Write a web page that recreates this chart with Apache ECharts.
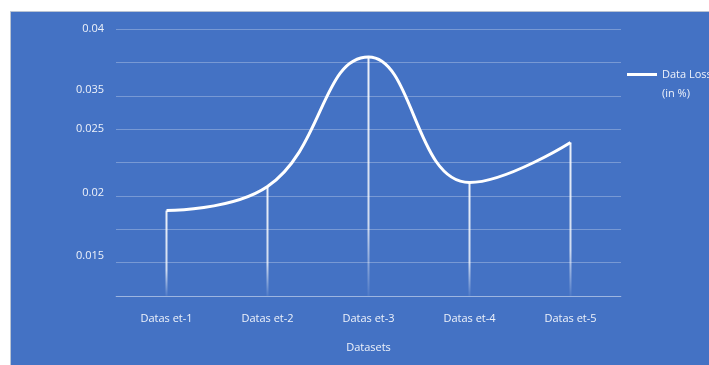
<!DOCTYPE html>
<html lang="en">

<head>
    <meta charset="UTF-8">
    <title>Data Loss</title>
    <style>
        html, body { margin: 0; padding: 0; background: #fff; }
        #chart { width: 709px; height: 365px; }
    </style>
</head>

<body>
    <div id="chart"></div>
    <script src="https://cdn.jsdelivr.net/npm/echarts@6/dist/echarts.min.js"></script>
    <script>
        const categories = ['Datas et-1', 'Datas et-2', 'Datas et-3', 'Datas et-4', 'Datas et-5']
        const dataLoss = [0.0189, 0.0207, 0.0304, 0.0210, 0.0240]
        // labels shown on the y gridlines, bottom to top
        const yTickLabels = ['', '0.015', '', '0.02', '', '0.025', '0.035', '', '0.04']

        const yMin = 0.0125
        const yStep = 0.0025

        let myChart = echarts.init(document.getElementById('chart'))

        const textColor = '#eef2fa'
        const gridColor = 'rgba(255,255,255,0.28)'

        // in the original some y labels sit a little above their gridline
        const labelLift = { '0.015': 'l7', '0.02': 'l3', '0.035': 'l6' }

        const option = {
            backgroundColor: '#fff',
            animation: false,
            textStyle: {
                fontFamily: 'Open Sans, Liberation Sans, sans-serif'
            },
            graphic: [{
                type: 'rect',
                z: -10,
                shape: { x: 10.5, y: 11.5, width: 700, height: 360 },
                style: { fill: '#4472c4', stroke: '#b9c3d3', lineWidth: 1 }
            }],
            grid: {
                left: 116,
                right: 88,
                top: 29,
                bottom: 69
            },
            legend: {
                data: ['Data Loss\n(in %)'],
                left: 622,
                top: 60,
                // line sits at the top of the icon box so it lines up with the first text line
                icon: 'path://M0,0L30,0L30,3L0,3Z M0,22L0.01,22',
                itemWidth: 30,
                itemHeight: 22,
                textStyle: {
                    color: textColor,
                    fontSize: 11,
                    lineHeight: 19
                }
            },
            xAxis: {
                type: 'category',
                data: categories,
                name: 'Datasets',
                nameLocation: 'middle',
                nameGap: 46,
                nameTextStyle: { color: textColor, fontSize: 11 },
                axisLine: { lineStyle: { color: gridColor } },
                axisTick: { show: false },
                axisLabel: { color: textColor, fontSize: 11, margin: 17 }
            },
            yAxis: {
                type: 'value',
                min: yMin,
                max: yMin + yStep * 8,
                interval: yStep,
                axisLine: { show: false },
                axisTick: { show: false },
                splitLine: { lineStyle: { color: gridColor } },
                axisLabel: {
                    color: textColor,
                    fontSize: 11,
                    margin: 12,
                    formatter: function (v) {
                        const i = Math.round((v - yMin) / yStep)
                        const t = yTickLabels[i] || ''
                        if (labelLift[t]) return '{' + labelLift[t] + '|' + t + '}'
                        return t
                    },
                    rich: {
                        l3: { color: textColor, fontSize: 11, padding: [0, 0, 6, 0] },
                        l6: { color: textColor, fontSize: 11, padding: [0, 0, 12, 0] },
                        l7: { color: textColor, fontSize: 11, padding: [0, 0, 14, 0] }
                    }
                }
            },
            series: [{
                // drop lines from each point to the axis
                name: 'drop',
                type: 'bar',
                data: dataLoss,
                barWidth: 2,
                silent: true,
                itemStyle: {
                    color: new echarts.graphic.LinearGradient(0, 0, 0, 1, [
                        { offset: 0, color: 'rgba(255,255,255,0.9)' },
                        { offset: 0.7, color: 'rgba(255,255,255,0.75)' },
                        { offset: 1, color: 'rgba(255,255,255,0.05)' }
                    ])
                }
            }, {
                name: 'Data Loss\n(in %)',
                type: 'line',
                data: dataLoss,
                smooth: 0.45,
                showSymbol: false,
                symbol: 'none',
                z: 5,
                lineStyle: { color: '#fff', width: 3 },
                itemStyle: { color: '#fff' }
            }]
        }

        myChart.setOption(option)
    </script>
</body>

</html>
